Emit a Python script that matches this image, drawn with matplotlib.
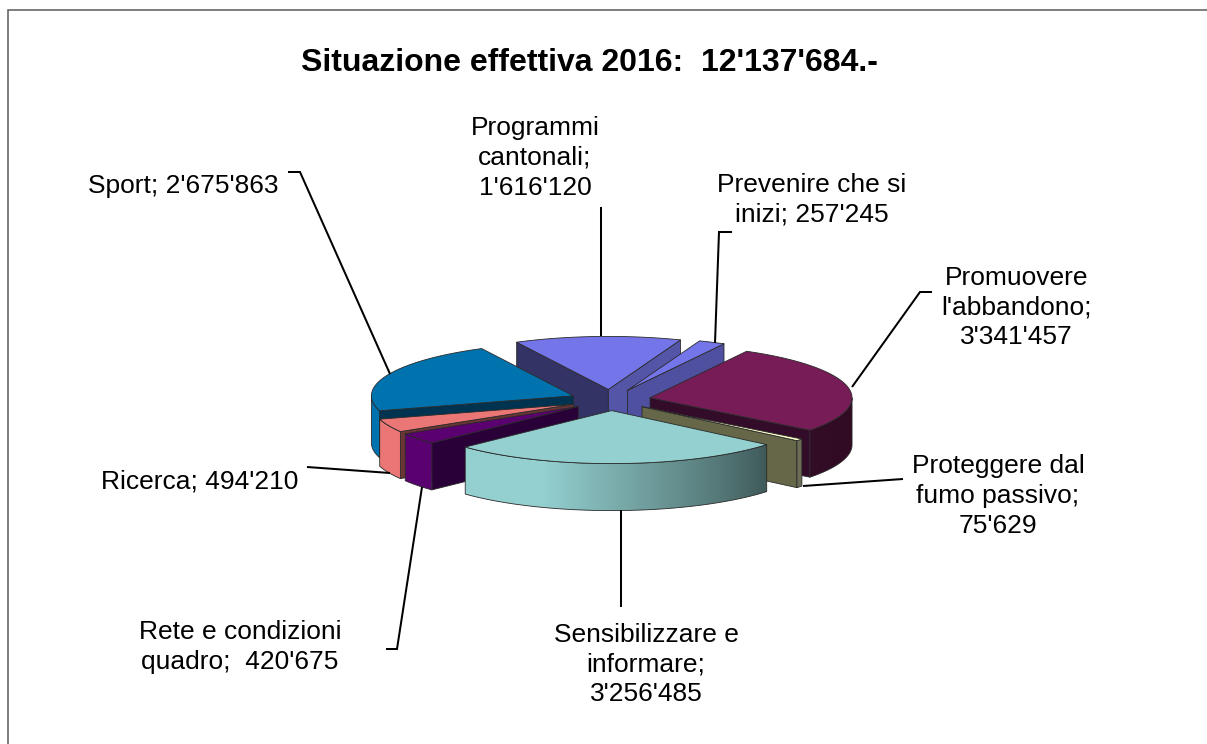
import numpy as np
import matplotlib
matplotlib.use("Agg")
import matplotlib.pyplot as plt
from matplotlib.patches import Polygon

# ---- data ----
categories = ["Programmi cantonali", "Prevenire che si inizi", "Promuovere l'abbandono",
              "Proteggere dal fumo passivo", "Sensibilizzare e informare",
              "Rete e condizioni quadro", "Ricerca", "Sport"]
values = [1616120, 257245, 3341457, 75629, 3256485, 420675, 494210, 2675863]
label_texts = ["Programmi\ncantonali;\n1'616'120", "Prevenire che si\ninizi; 257'245",
               "Promuovere\nl'abbandono;\n3'341'457", "Proteggere dal\nfumo passivo;\n75'629",
               "Sensibilizzare e\ninformare;\n3'256'485", "Rete e condizioni\nquadro;  420'675",
               "Ricerca; 494'210", "Sport; 2'675'863"]
title_text = "Situazione effettiva 2016:  12'137'684.-"
top_colors = ["#7575EA", "#7575EA", "#771C57", "#FFFFCC", "#94D0D0", "#5A0070", "#EB7676", "#0073AF"]
start_wall_colors = ["#333366", None, None, None, None, "#2A0038", "#6B3535", "#003350"]
end_wall_colors = ["#5555A8", "#5050A0", "#320C28", "#666648", None, None, None, None]
label_pos = [(535, 158), (811.5, 200), (1016.5, 307.5), (998, 496), (646, 664.5), (240, 647), (200, 482), (183, 186)]
leaders = [[(601, 207), (601, 336)],
           [(732, 232), (719, 232), (715, 343)],
           [(932, 292), (920, 292), (852, 387)],
           [(903, 479), (803, 486)],
           [(621, 510), (621, 607)],
           [(386, 649), (397, 649), (422, 487)],
           [(307, 467), (390, 473)],
           [(288, 172), (300, 172), (390, 374)]]

# ---- projection of the tilted pie ----
CX, CY, RX, RY, DEPTH, EXPLODE, START = 610.5, 400.0, 202.0, 53.0, 47.0, 0.2, -27.0

plt.rcParams["font.family"] = ["Liberation Sans", "DejaVu Sans"]
fig = plt.figure(figsize=(12.07, 7.44), dpi=100, facecolor="white")
ax = fig.add_axes([0, 0, 1, 1])
ax.axis("off")

ax.plot([7.5, 7.5, 1207], [744, 9.5, 9.5], color="#5a5a5a", lw=1.1, solid_joinstyle="miter")

EDGE = "#2a2a2a"


def light(theta):
    return np.interp(theta, [90, 130, 200, 270], [0.40, 0.43, 1.0, 1.0])


angles = np.cumsum([0] + values) / sum(values) * 360 + START


def draw_slice(i):
    a, b = angles[i], angles[i + 1]
    mid = np.radians((a + b) / 2)
    ax0 = CX + EXPLODE * RX * np.sin(mid)
    ay0 = CY - EXPLODE * RY * np.cos(mid)

    def rim(t):
        t = np.radians(t)
        return ax0 + RX * np.sin(t), ay0 - RY * np.cos(t)

    # radial walls
    for ang, col in ((a, start_wall_colors[i]), (b, end_wall_colors[i])):
        if col:
            x, y = rim(ang)
            ax.add_patch(Polygon([(ax0, ay0), (x, y), (x, y + DEPTH), (ax0, ay0 + DEPTH)],
                                 closed=True, fc=col, ec=EDGE, lw=0.6, joinstyle="round"))
    # outer wall, shaded along the rim
    t0, t1 = max(a, 90), min(b, 270)
    if t0 < t1:
        ts = np.linspace(t0, t1, 200)
        xs, ys = rim(ts)
        outline = Polygon(np.r_[np.c_[xs, ys], np.c_[xs[::-1], ys[::-1] + DEPTH]],
                          closed=True, fc="none", ec=EDGE, lw=0.6)
        order = np.argsort(xs)
        grid_x = np.linspace(xs.min(), xs.max(), 200)
        grid_t = np.interp(grid_x, xs[order], ts[order])
        base = np.array(matplotlib.colors.to_rgb(top_colors[i]))
        img = base[None, :] * light(grid_t)[:, None]
        im = ax.imshow(img[None, :, :], extent=(xs.min(), xs.max(), ys.max() + DEPTH, ys.min()),
                       aspect="auto", interpolation="bilinear", zorder=1)
        ax.add_patch(outline)
        im.set_clip_path(outline)
    # top face
    ts = np.linspace(a, b, 80)
    xs, ys = rim(ts)
    ax.add_patch(Polygon(np.r_[[(ax0, ay0)], np.c_[xs, ys]], closed=True,
                         fc=top_colors[i], ec=EDGE, lw=0.6, joinstyle="round"))


mids = (angles[:-1] + angles[1:]) / 2
for i in sorted(range(len(values)), key=lambda k: -np.cos(np.radians(mids[k]))):
    draw_slice(i)

for pts in leaders:
    px, py = zip(*pts)
    ax.plot(px, py, color="black", lw=1.45, solid_joinstyle="miter", solid_capstyle="butt", zorder=20)

for txt, (x, y) in zip(label_texts, label_pos):
    ax.text(x, y, txt, ha="center", va="center", fontsize=19.0, linespacing=1.31, color="black", zorder=30)

ax.text(589.5, 63, title_text, ha="center", va="center", fontsize=23.0, fontweight="bold", color="black")

ax.set_xlim(0, 1207)
ax.set_ylim(744, 0)
fig.savefig("out.png", dpi=100, facecolor="white")
